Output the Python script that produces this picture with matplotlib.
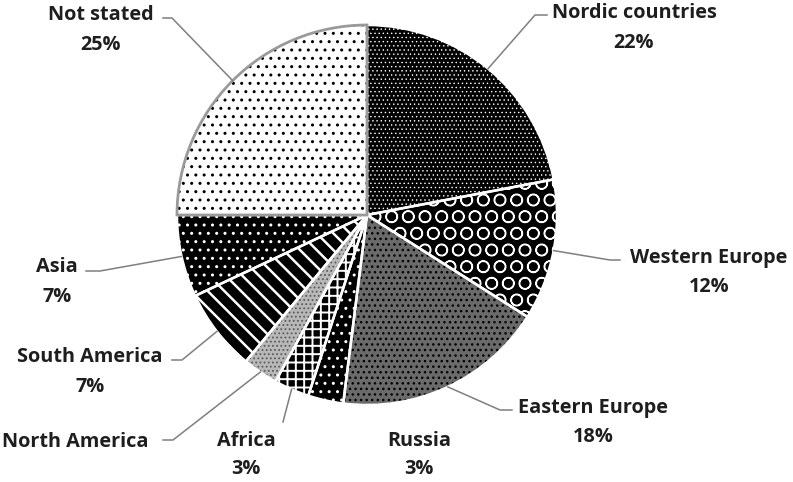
import numpy as np
import matplotlib
matplotlib.use("Agg")
from matplotlib import pyplot as plt

# data
regions = ["Nordic countries", "Western Europe", "Eastern Europe", "Russia", "Africa",
           "North America", "South America", "Asia", "Not stated"]
shares = [22, 12, 18, 3, 3, 3, 7, 7, 25]
show_pct = [True, True, True, True, True, False, True, True, True]

# styling per slice: face colour, hatch, hatch colour, hatch width
faces = ["black", "black", "#6a6a6a", "black", "black", "#b8b8b8", "black", "black", "white"]
hatches = ["....", "O", "...", "..", "++", "....", "\\\\", "..", ".."]
hatch_cols = ["white", "white", "black", "white", "white", "#5a5a5a", "white", "white", "black"]
hatch_lw = [0.5, 1.0, 1.0, 1.0, 1.4, 0.8, 1.8, 1.0, 1.0]

# label layout in pixels (x, y from top), elbow / end of leader line
label_pos = [(634, 28), (709, 272), (593, 422), (419, 455), (246, 455),
             (75, 442), (90, 372), (57, 282), (101, 30)]
leaders = [[(535, 15), (547, 15)], [(610, 260), (620, 260)], [(500, 410), (512, 410)], None,
           [(283, 422)], [(173, 440), (163, 440)], [(182, 360), (172, 360)],
           [(100, 271), (86, 271)], [(172, 18), (163, 18)]]

W, H = 793, 482
cx, cy, R = 367, 215, 190

plt.rcParams['font.family'] = ['Open Sans', 'DejaVu Sans']
fig = plt.figure(figsize=(W / 100, H / 100), dpi=100)
ax = fig.add_axes([0, 0, 1, 1])

wedges, _ = ax.pie(shares, center=(cx, H - cy), radius=R, startangle=90, counterclock=False,
                   colors=faces, wedgeprops=dict(linewidth=0))
for w, h, hc, hl in zip(wedges, hatches, hatch_cols, hatch_lw):
    w.set_hatch(h)
    w.set_edgecolor(hc)
    w.set_linewidth(0)
    if hasattr(w, 'set_hatch_linewidth'):
        w.set_hatch_linewidth(hl)
    else:
        w._hatch_linewidth = hl

# white separators, then grey outline on "Not stated"
outl, _ = ax.pie(shares, center=(cx, H - cy), radius=R, startangle=90, counterclock=False,
                 colors=["none"] * len(shares),
                 wedgeprops=dict(edgecolor="white", linewidth=1.8))
outl[-1].set_edgecolor("#9a9a9a")
outl[-1].set_linewidth(2.0)
outl[-1].set_zorder(5)

# labels and leader lines
for i, name in enumerate(regions):
    txt = name + ("\n%d%%" % shares[i] if show_pct[i] else "")
    lx, ly = label_pos[i]
    ax.text(lx, H - ly, txt, ha="center", va="center", fontsize=14.3, fontweight="bold",
            color="#1e1e1e", linespacing=1.6)
    if leaders[i] is None:
        continue
    w = wedges[i]
    mid = np.deg2rad((w.theta1 + w.theta2) / 2)
    pts = [(cx + R * np.cos(mid), H - cy + R * np.sin(mid))] + [(x, H - y) for x, y in leaders[i]]
    xs, ys = zip(*pts)
    ax.plot(xs, ys, color="#7f7f7f", linewidth=1.1, zorder=6)

ax.set_xlim(0, W)
ax.set_ylim(0, H)
ax.set_aspect('equal')
ax.axis('off')
fig.savefig("out.png", dpi=100)
